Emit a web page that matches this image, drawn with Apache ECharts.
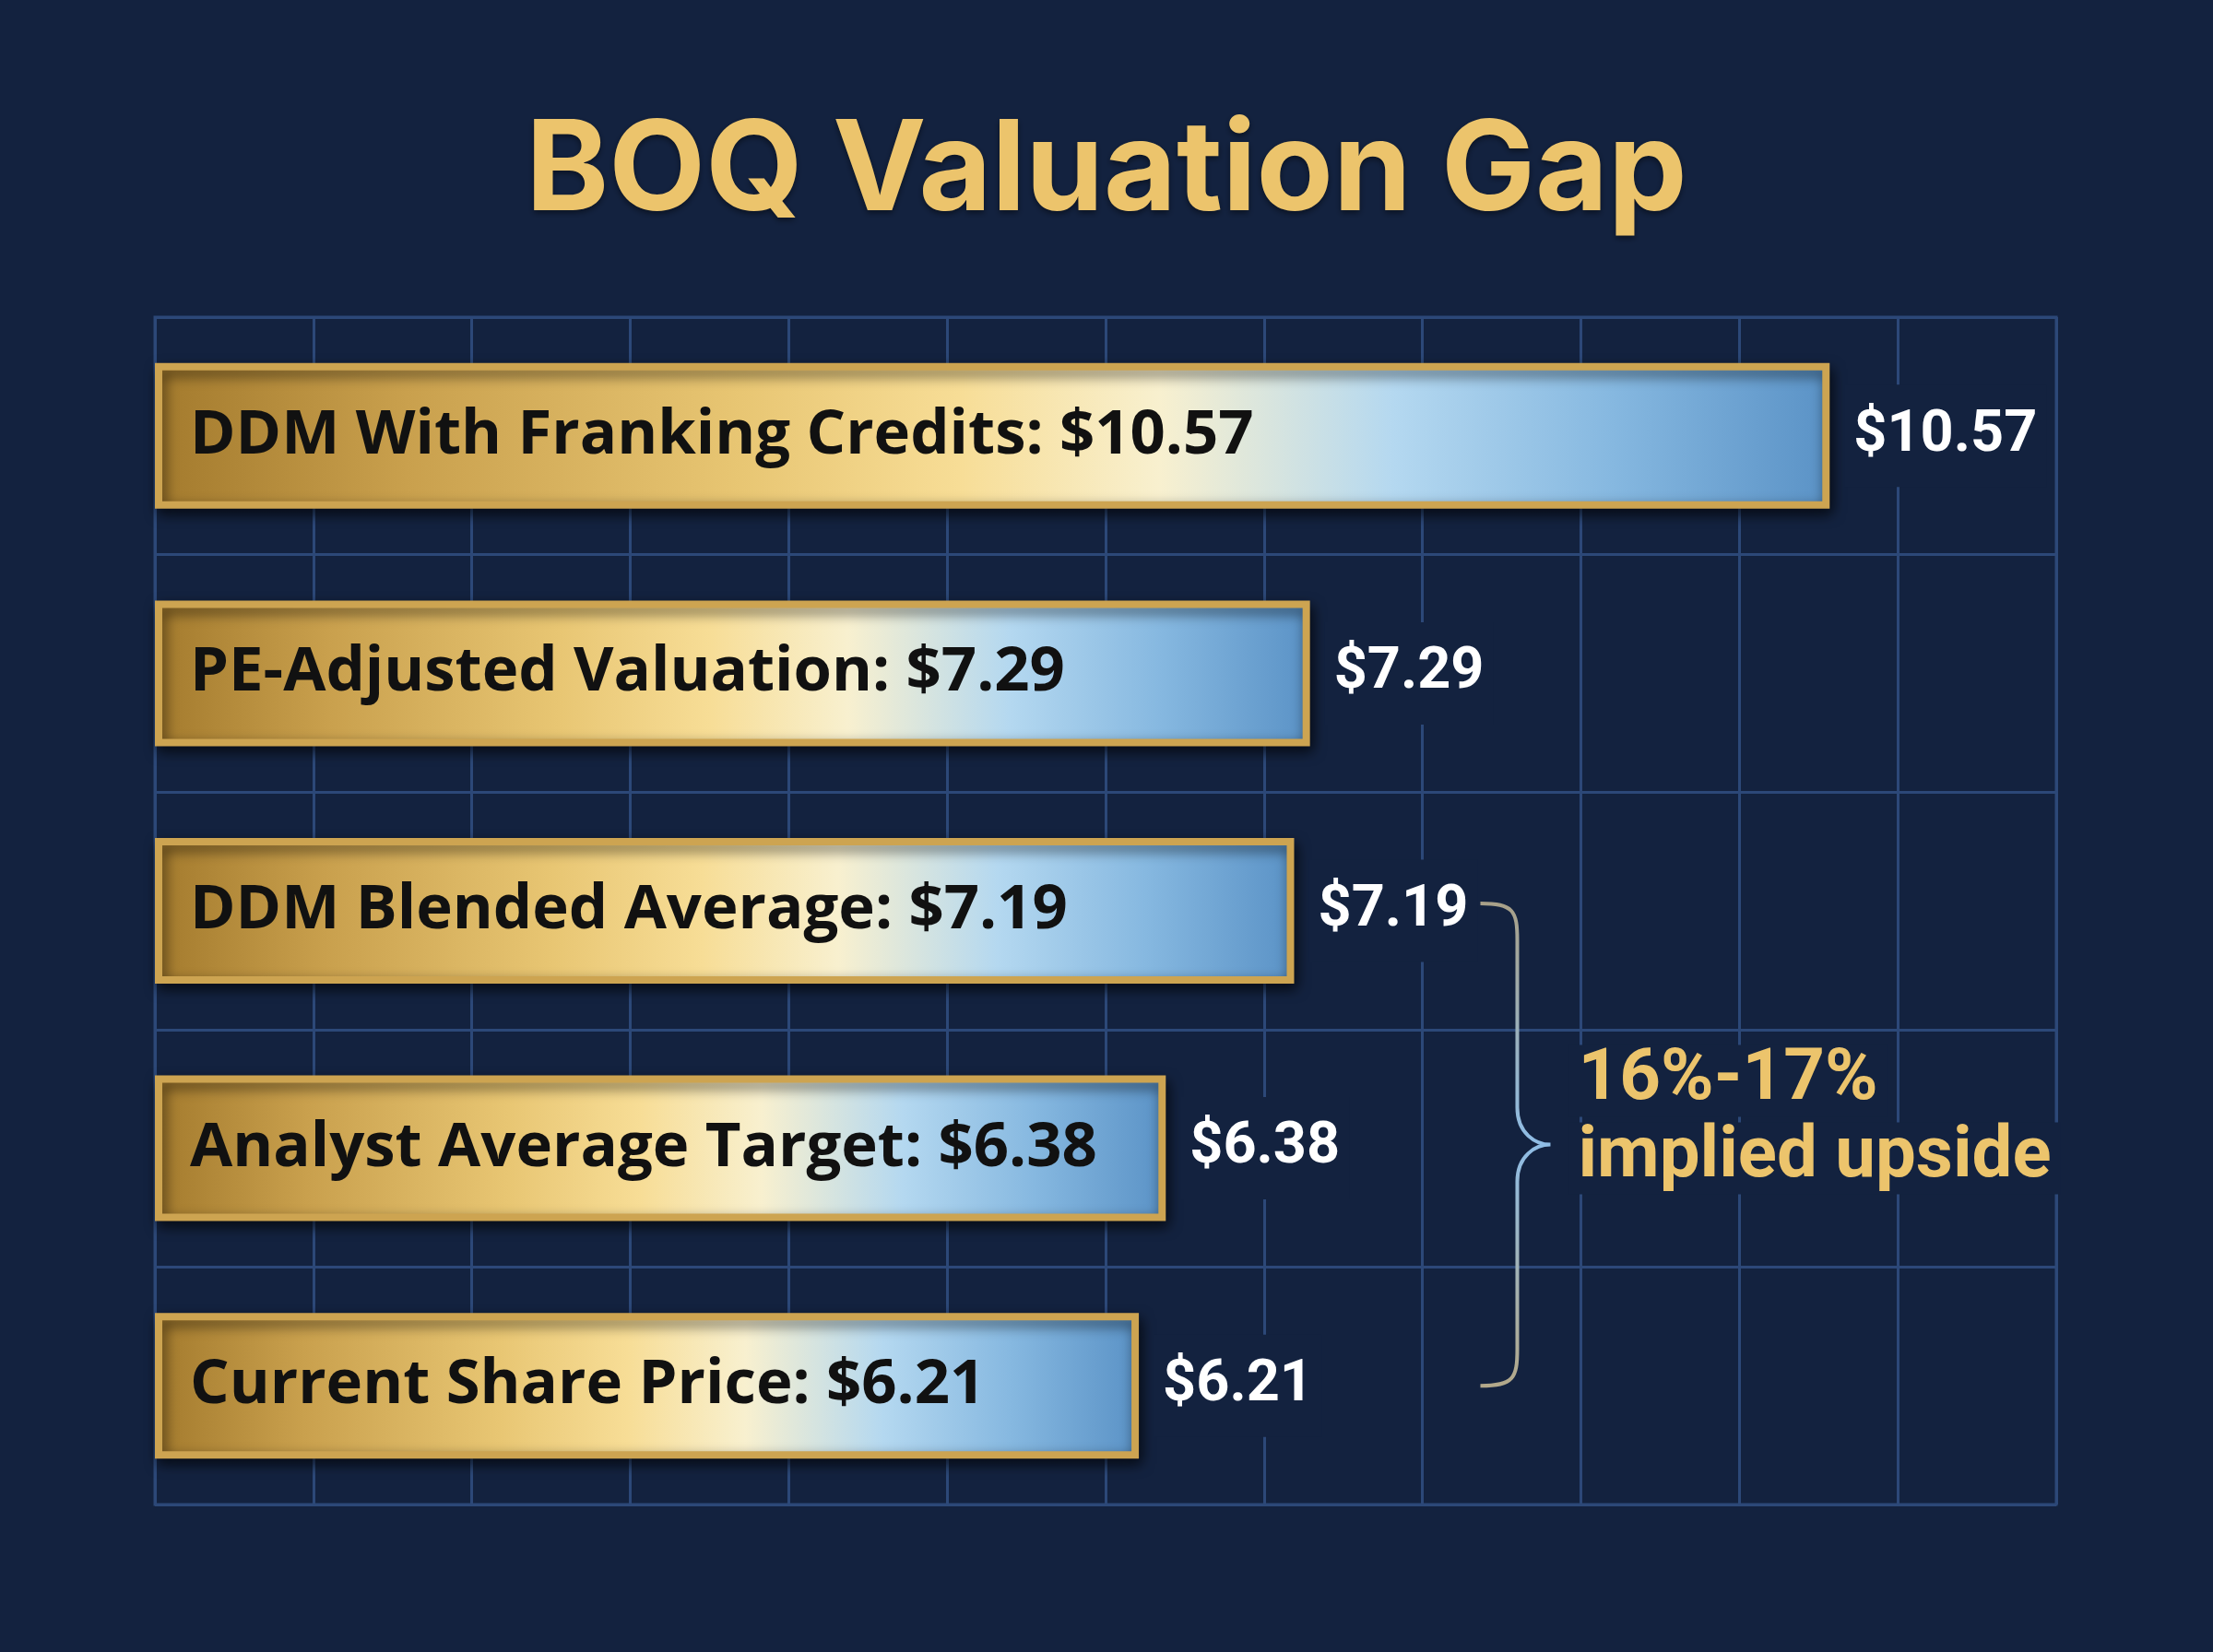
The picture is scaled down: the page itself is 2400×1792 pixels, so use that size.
<!DOCTYPE html>
<html>
<head>
<meta charset="utf-8">
<title>BOQ Valuation Gap</title>
<script src="https://cdn.jsdelivr.net/npm/echarts@6/dist/echarts.min.js"></script>
<style>
    html, body { margin: 0; padding: 0; background: #13223f; }
    #chart { width: 2400px; height: 1792px; }
</style>
</head>
<body>
<div id="chart"></div>
<script>
var categories = [
    'DDM With Franking Credits',
    'PE-Adjusted Valuation',
    'DDM Blended Average',
    'Analyst Average Target',
    'Current Share Price'
];
var values = [10.57, 7.29, 7.19, 6.38, 6.21];

// value axis runs 0..12 in $1 steps (one grid column per dollar)
var axisMin = 0;
var axisMax = 12;
var axisStep = 1;

// brace from "DDM Blended Average" down to "Current Share Price"
var upsideFrom = 2;
var upsideTo = 4;
var upsideLines = ['16%-17%', 'implied upside'];

var bg = '#13223f';
var gold = '#ecc46c';
var gridColor = '#2c4878';

var barFill = {
    type: 'linear', x: 0, y: 0, x2: 1, y2: 0,
    colorStops: [
        {offset: 0, color: '#a37a2d'},
        {offset: 0.15, color: '#c9a04d'},
        {offset: 0.35, color: '#e8c673'},
        {offset: 0.48, color: '#f7dd96'},
        {offset: 0.6, color: '#f8f0cf'},
        {offset: 0.74, color: '#b4d8f0'},
        {offset: 0.87, color: '#86b8e0'},
        {offset: 1, color: '#5a92c6'}
    ]
};

var braceStroke = {
    type: 'linear', x: 0, y: 0, x2: 0, y2: 1,
    colorStops: [
        {offset: 0, color: '#a8a088'},
        {offset: 0.5, color: '#8fbde6'},
        {offset: 1, color: '#b3a889'}
    ]
};

function money(v) {
    return '$' + v.toFixed(2);
}

function renderBrace(params, api) {
    var top = api.coord([api.value(0), api.value(1)]);
    var bottom = api.coord([api.value(0), api.value(2)]);
    var x0 = top[0] + 202; // sits just past the value label
    var x1 = x0 + 40;
    var x2 = x1 + 36;
    var y0 = top[1] - 8;
    var y2 = bottom[1];
    var ym = (y0 + y2) / 2;
    var r = 40;

    var d = 'M' + x0 + ' ' + y0 +
        ' C' + (x1 - 4) + ' ' + y0 + ' ' + x1 + ' ' + (y0 + 8) + ' ' + x1 + ' ' + (y0 + r) +
        ' L' + x1 + ' ' + (ym - r) +
        ' C' + x1 + ' ' + (ym - 12) + ' ' + (x2 - 16) + ' ' + ym + ' ' + x2 + ' ' + ym +
        ' C' + (x2 - 16) + ' ' + ym + ' ' + x1 + ' ' + (ym + 12) + ' ' + x1 + ' ' + (ym + r) +
        ' L' + x1 + ' ' + (y2 - r) +
        ' C' + x1 + ' ' + (y2 - 8) + ' ' + (x1 - 4) + ' ' + y2 + ' ' + x0 + ' ' + y2;

    return {
        type: 'group',
        children: [{
            type: 'path',
            shape: {pathData: d},
            style: {fill: 'none', stroke: braceStroke, lineWidth: 4}
        }, {
            type: 'text',
            x: x2 + 20,
            y: ym - 27,
            style: {
                text: '{a|' + upsideLines[0] + '}\n{b|' + upsideLines[1] + '}',
                align: 'left',
                verticalAlign: 'middle',
                rich: {
                    a: {
                        fill: gold, fontSize: 78, fontWeight: 'bold', fontFamily: 'Roboto',
                        lineHeight: 84, backgroundColor: bg, padding: [0, 10]
                    },
                    b: {
                        fill: gold, fontSize: 78, fontWeight: 'bold', fontFamily: 'Roboto',
                        lineHeight: 84, backgroundColor: bg, padding: [0, 10]
                    }
                }
            }
        }]
    };
}

var chart = echarts.init(document.getElementById('chart'));

chart.setOption({
    backgroundColor: bg,
    animation: false,
    title: {
        text: 'BOQ Valuation Gap',
        left: 'center',
        top: 114,
        textStyle: {
            color: gold,
            fontSize: 136,
            fontWeight: 700,
            fontFamily: 'Inter',
            textShadowColor: 'rgba(0,0,0,0.45)',
            textShadowBlur: 6,
            textShadowOffsetY: 3
        }
    },
    grid: {
        left: 168,
        right: 170,
        top: 344,
        bottom: 160,
        show: true,
        borderColor: gridColor,
        borderWidth: 3
    },
    xAxis: {
        type: 'value',
        min: axisMin,
        max: axisMax,
        interval: axisStep,
        axisLabel: {show: false},
        axisTick: {show: false},
        axisLine: {show: false},
        splitLine: {lineStyle: {color: gridColor, width: 3}}
    },
    yAxis: {
        type: 'category',
        inverse: true,
        data: categories,
        axisLabel: {show: false},
        axisTick: {show: false},
        axisLine: {show: false},
        splitLine: {show: true, interval: 0, lineStyle: {color: gridColor, width: 3}}
    },
    series: [{
        name: 'Valuation',
        type: 'bar',
        data: values,
        barWidth: 158,
        itemStyle: {
            color: barFill,
            borderColor: '#cda451',
            borderWidth: 8,
            shadowColor: 'rgba(0,0,0,0.6)',
            shadowBlur: 14,
            shadowOffsetX: 3,
            shadowOffsetY: 6
        },
        label: {
            show: true,
            position: 'insideLeft',
            distance: 38,
            color: '#111111',
            fontFamily: 'Open Sans',
            fontWeight: 700,
            fontSize: 67,
            formatter: function (p) {
                return p.name + ': ' + money(p.value);
            }
        }
    }, {
        name: 'Value label',
        type: 'bar',
        data: values,
        barWidth: 158,
        barGap: '-100%',
        silent: true,
        itemStyle: {color: 'transparent'},
        label: {
            show: true,
            position: 'right',
            distance: 16,
            color: '#ffffff',
            fontFamily: 'Roboto',
            fontWeight: 700,
            fontSize: 63,
            backgroundColor: bg,
            padding: [24, 10],
            formatter: function (p) {
                return money(p.value);
            }
        }
    }, {
        name: 'Upside',
        type: 'custom',
        silent: true,
        renderItem: renderBrace,
        data: [[values[upsideFrom], upsideFrom, upsideTo]],
        z: 5
    }]
});
</script>
</body>
</html>
